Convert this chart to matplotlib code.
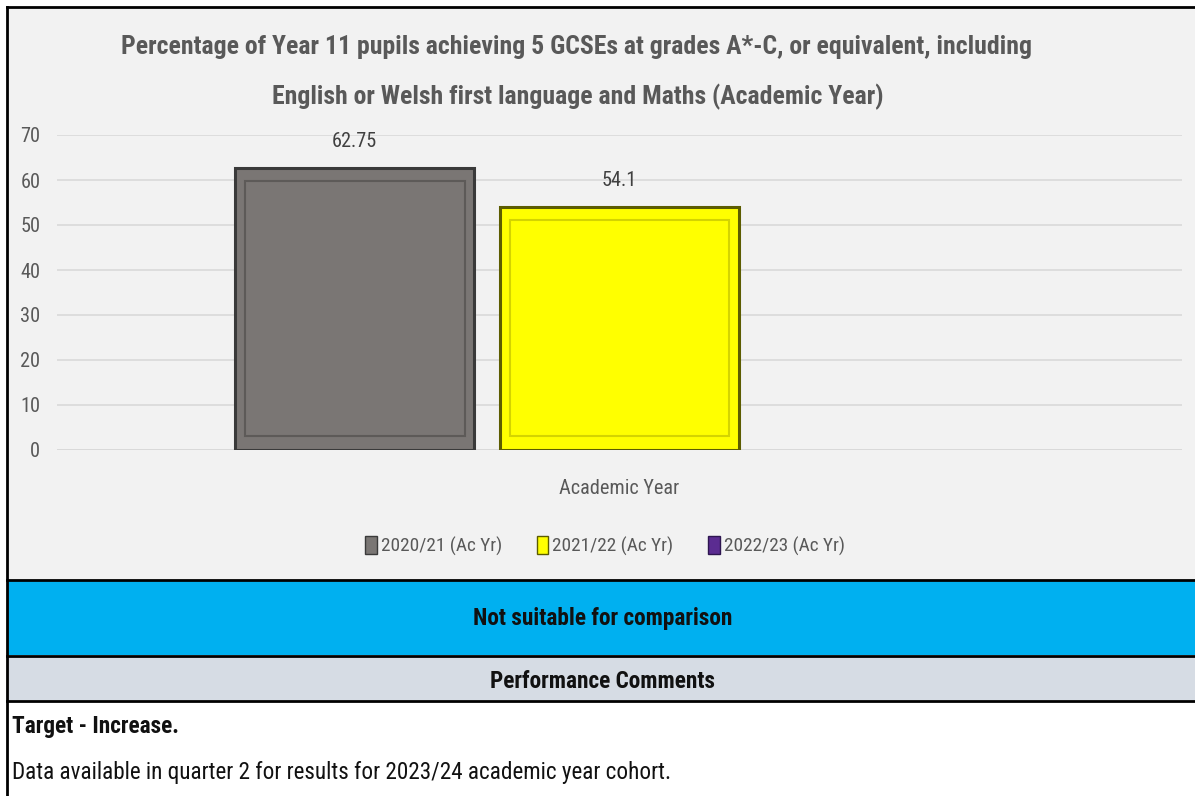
import matplotlib
matplotlib.use("Agg")
import matplotlib.pyplot as plt
from matplotlib import font_manager
import numpy as np

# data
series = ["2020/21 (Ac Yr)", "2021/22 (Ac Yr)", "2022/23 (Ac Yr)"]
values = [62.75, 54.1, np.nan]
value_labels = ["62.75", "54.1", ""]
face_cols = ["#7a7674", "#ffff00", "#5b2c91"]
edge_cols = ["#3a3a3a", "#5c5c00", "#2e1650"]
inner_cols = ["#5d5a58", "#d4d400", "#3e1d66"]
yticks = [0, 10, 20, 30, 40, 50, 60, 70]

title_1 = "Percentage of Year 11 pupils achieving 5 GCSEs at grades A*-C, or equivalent, including"
title_2 = "English or Welsh first language and Maths (Academic Year)"
category = "Academic Year"
status = "Not suitable for comparison"
comments_head = "Performance Comments"
comment_1 = "Target - Increase."
comment_2 = "Data available in quarter 2 for results for 2023/24 academic year cohort."

names = {f.name for f in font_manager.fontManager.ttflist}
fam = "DejaVu Sans"
for cand in ["Liberation Sans Narrow", "DejaVu Sans Condensed", "Roboto Condensed",
             "Open Sans Condensed", "Lato"]:
    if cand in names:
        fam = cand
        break
plt.rcParams["font.family"] = [fam, "DejaVu Sans"]

W, H = 1195, 796
fig = plt.figure(figsize=(W / 100, H / 100), dpi=100)
fig.patch.set_facecolor("white")
renderer = fig.canvas.get_renderer()


def size_for(s, width_px, bold=False):
    # font size that makes the text about width_px wide
    t = fig.text(0, 0, s, fontsize=10, fontweight="bold" if bold else "normal")
    wpx = t.get_window_extent(renderer).width
    t.remove()
    return 10 * width_px / wpx


def fx(px):
    return px / W


def fy(py):
    return 1 - py / H


# background panels
bg = fig.add_axes([0, 0, 1, 1])
bg.set_xlim(0, W)
bg.set_ylim(H, 0)
bg.axis("off")
bg.add_patch(plt.Rectangle((7, 7), W, 573, facecolor="#f2f2f2", edgecolor="none"))
bg.add_patch(plt.Rectangle((7, 581), W, 74, facecolor="#00b0f0", edgecolor="none"))
bg.add_patch(plt.Rectangle((7, 657), W, 43, facecolor="#d6dce4", edgecolor="none"))
for yy in [7, 580, 656, 701]:
    bg.plot([7, W], [yy, yy], color="black", lw=2)
bg.plot([7, 7], [7, H], color="black", lw=2)

ts = size_for(title_1, 911, bold=True)
bg.text(577, 47, title_1, ha="center", va="center", fontsize=ts, fontweight="bold", color="#595959")
bg.text(578, 97, title_2, ha="center", va="center", fontsize=ts, fontweight="bold", color="#595959")
bs = size_for(status, 260, bold=True)
bg.text(603, 619, status, ha="center", va="center", fontsize=bs, fontweight="bold", color="#111111")
bg.text(603, 681, comments_head, ha="center", va="center", fontsize=bs, fontweight="bold", color="#111111")
bg.text(12, 727, comment_1, ha="left", va="center", fontsize=bs, fontweight="bold", color="#111111")
bg.text(12, 772, comment_2, ha="left", va="center", fontsize=size_for(comment_2, 654), color="#111111")

ls = size_for(category, 119)

# chart
ax = fig.add_axes([fx(57), fy(450), fx(1182) - fx(57), fy(135) - fy(450)])
ax.set_facecolor("none")
x = np.array([-1, 0, 1])
w = 0.9
ax.bar(x, values, width=w, color=face_cols, edgecolor=edge_cols, linewidth=2.2, zorder=3)
inset = 3.0
inner_h = [v - 2 * inset if not np.isnan(v) else np.nan for v in values]
ax.bar(x, inner_h, bottom=inset, width=w - 0.07, color="none", edgecolor=inner_cols,
       linewidth=1.5, zorder=4)
for xi, v, lab in zip(x, values, value_labels):
    if lab:
        ax.text(xi, v + 3.6, lab, ha="center", va="bottom", fontsize=ls, color="#404040")

ax.set_xlim(-2.123, 2.123)
ax.set_ylim(0, 70)
ax.set_yticks(yticks)
ax.tick_params(axis="y", length=0, labelsize=ls, labelcolor="#595959", pad=12)
ax.set_xticks([])
ax.grid(axis="y", color="#d9d9d9", lw=1.2, zorder=0)
for s in ax.spines.values():
    s.set_visible(False)
ax.axhline(0, color="#d9d9d9", lw=1.2, zorder=1)

bg.text(619, 489, category, ha="center", va="center", fontsize=ls, color="#595959")

handles = [plt.Rectangle((0, 0), 1, 1, facecolor=c, edgecolor=e, lw=1) for c, e in zip(face_cols, edge_cols)]
fig.legend(handles, series, loc="center", bbox_to_anchor=(fx(605), fy(546)), ncol=3, frameon=False,
           fontsize=size_for(series[0], 120), labelcolor="#595959", handlelength=0.6, handleheight=1.0,
           handletextpad=0.2, columnspacing=1.8)

fig.savefig("out.png", dpi=100)
